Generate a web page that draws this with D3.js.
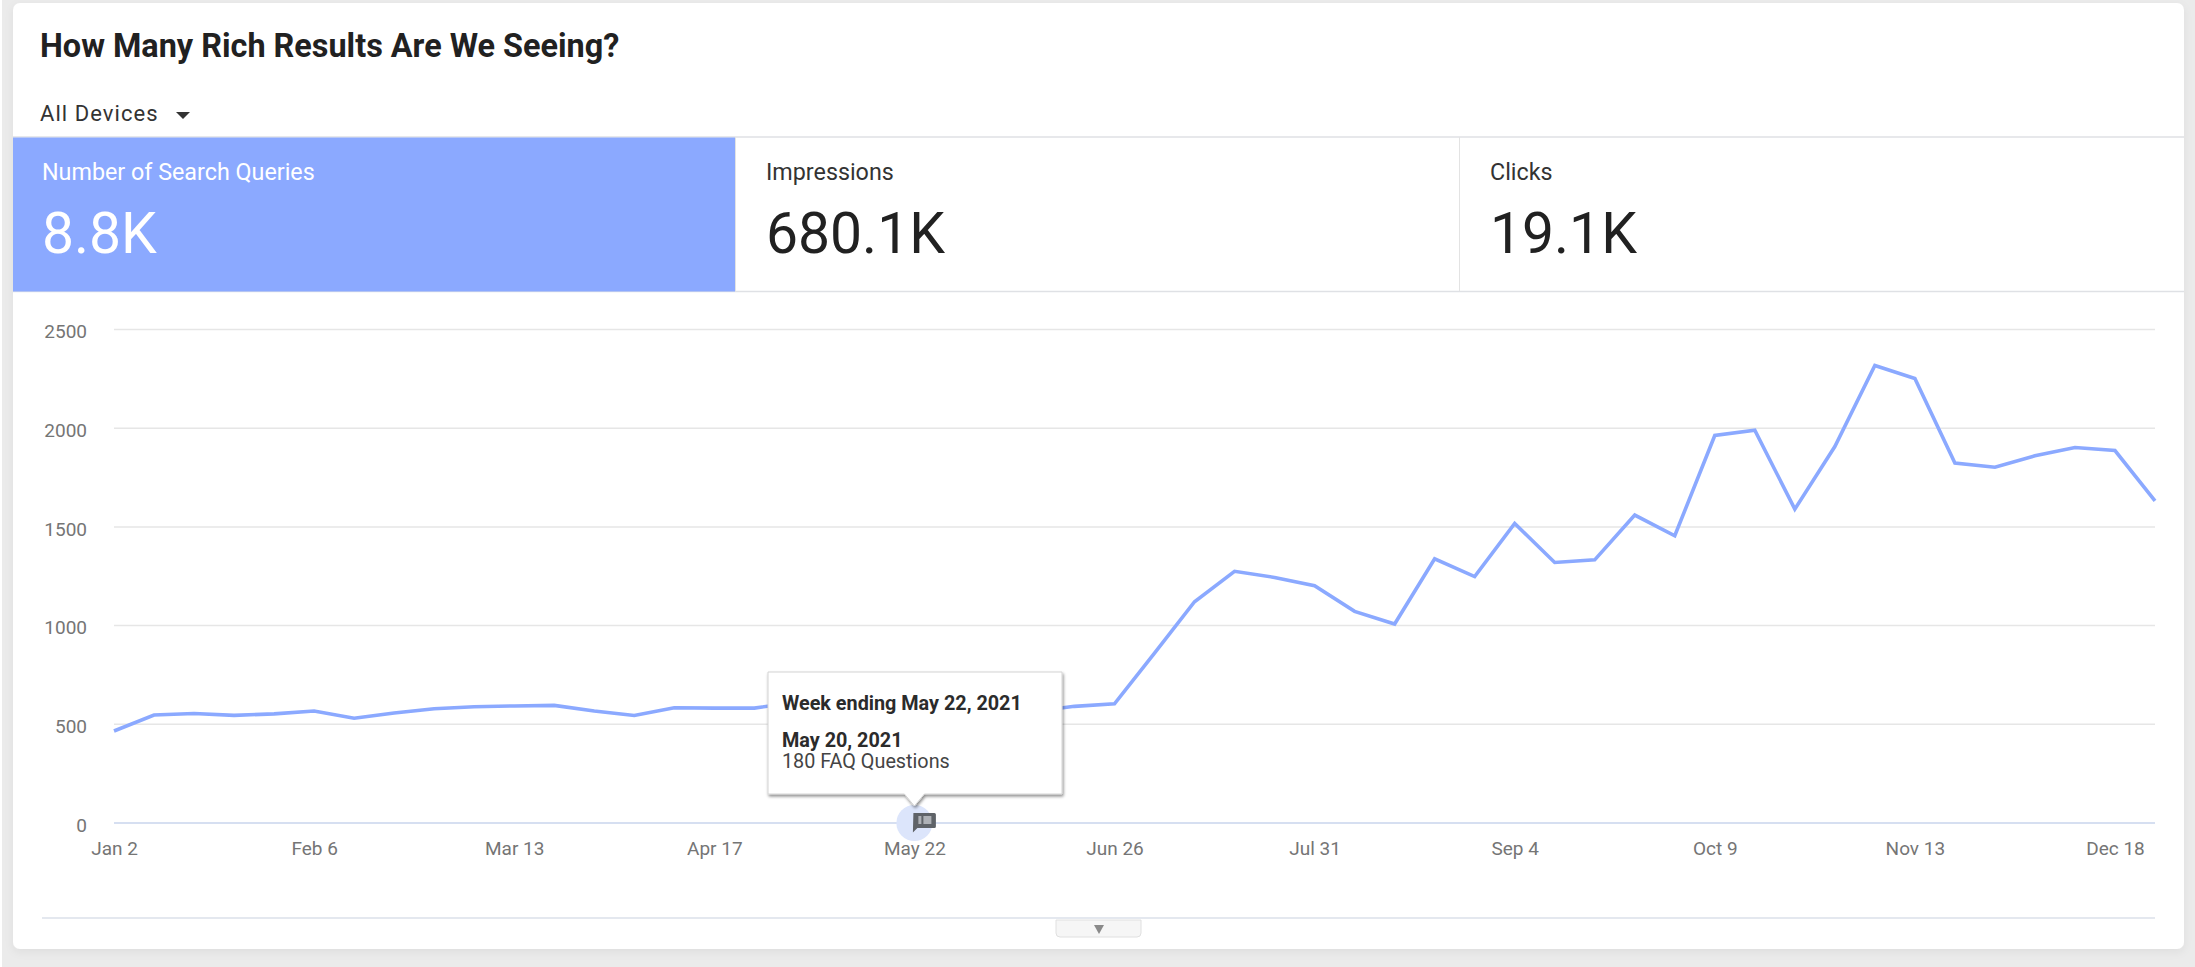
<!DOCTYPE html>
<html>
<head>
<meta charset="utf-8">
<title>How Many Rich Results Are We Seeing?</title>
<script src="https://cdn.jsdelivr.net/npm/d3@7/dist/d3.min.js"></script>
<style>
  html, body { margin: 0; padding: 0; background: #fff; overflow: hidden; }
  svg { display: block; font-family: Roboto, sans-serif; }
</style>
</head>
<body>
<svg id="chart" width="2195" height="967"></svg>
<script>
// Weekly query counts, week ending Jan 2 through Dec 25, 2021
const weeklyQueries = [
  466, 547, 555, 545, 553, 567, 531, 557, 579, 589,
  593, 596, 567, 545, 584, 582, 582, 610, 620, 600,
  590, 580, 575, 565, 591, 604, 860, 1121, 1275, 1244,
  1202, 1072, 1008, 1338, 1248, 1518, 1320, 1333, 1560, 1455,
  1963, 1990, 1590, 1907, 2318, 2252, 1823, 1802, 1860, 1902,
  1887, 1632
];
const yTicks = [0, 500, 1000, 1500, 2000, 2500];
const xTickDates = ["2021-01-02", "2021-02-06", "2021-03-13", "2021-04-17", "2021-05-22",
  "2021-06-26", "2021-07-31", "2021-09-04", "2021-10-09", "2021-11-13", "2021-12-18"];
const scorecardLabels = ["Number of Search Queries", "Impressions", "Clicks"];
const scorecardValues = ["8.8K", "680.1K", "19.1K"];
const annotationDate = "2021-05-22";
const tooltipLines = ["Week ending May 22, 2021", "May 20, 2021", "180 FAQ Questions"];

const BLUE = "#8ba9ff";
const INK = "#212121";
const svg = d3.select("#chart");

const weekDates = weeklyQueries.map((_, i) => d3.utcDay.offset(new Date(Date.UTC(2021, 0, 2)), i * 7));
const x = d3.scaleUtc().domain([weekDates[0], weekDates[weekDates.length - 1]]).range([114, 2155]);
const y = d3.scaleLinear().domain([0, 2500]).range([823, 329.5]);

// Page and card
svg.append("rect").attr("x", 2).attr("width", 2193).attr("height", 967).attr("fill", "#ebebeb");
const defs = svg.append("defs");
const cardShadow = defs.append("filter").attr("id", "cardShadow")
  .attr("x", "-2%").attr("y", "-2%").attr("width", "104%").attr("height", "106%");
cardShadow.append("feDropShadow").attr("dx", 0).attr("dy", 3).attr("stdDeviation", 4)
  .attr("flood-color", "#000").attr("flood-opacity", 0.06);
const tipShadow = defs.append("filter").attr("id", "tipShadow")
  .attr("x", "-10%").attr("y", "-10%").attr("width", "120%").attr("height", "125%");
tipShadow.append("feDropShadow").attr("dx", 1).attr("dy", 2).attr("stdDeviation", 1.6)
  .attr("flood-color", "#000").attr("flood-opacity", 0.45);

svg.append("rect").attr("x", 13).attr("y", 3).attr("width", 2171).attr("height", 946)
  .attr("rx", 7).attr("fill", "#fff").attr("filter", "url(#cardShadow)");

// Header
svg.append("text").attr("x", 40).attr("y", 57).attr("font-size", 32.4).attr("font-weight", 700)
  .attr("fill", INK).text("How Many Rich Results Are We Seeing?");
svg.append("text").attr("x", 40).attr("y", 121).attr("font-size", 22).attr("letter-spacing", 1.05)
  .attr("fill", "#333").text("All Devices");
svg.append("path").attr("d", d3.line()([[176, 112], [190, 112], [183, 119]]) + "Z").attr("fill", "#333");

// Scorecards
const cardEdges = [13, 735, 1459, 2184];
svg.append("line").attr("x1", 13).attr("x2", 2184).attr("y1", 137).attr("y2", 137).attr("stroke", "#dfe1e5").attr("stroke-width", 1.5);
svg.append("line").attr("x1", 13).attr("x2", 2184).attr("y1", 291.5).attr("y2", 291.5).attr("stroke", "#dfe1e5").attr("stroke-width", 1.5);
const cards = svg.selectAll("g.scorecard").data(scorecardLabels).join("g").attr("class", "scorecard");
cards.append("rect")
  .attr("x", (_, i) => cardEdges[i]).attr("y", 137.5)
  .attr("width", (_, i) => cardEdges[i + 1] - cardEdges[i]).attr("height", 154)
  .attr("fill", (_, i) => i === 0 ? BLUE : "none");
cards.filter((_, i) => i > 0).append("line")
  .attr("x1", (_, i) => cardEdges[i + 1] + 0.5).attr("x2", (_, i) => cardEdges[i + 1] + 0.5)
  .attr("y1", 137).attr("y2", 291).attr("stroke", "#e3e3e3");
cards.append("text")
  .attr("x", (_, i) => cardEdges[i] + (i === 0 ? 29 : 31)).attr("y", 180)
  .attr("font-size", 23.3).attr("fill", (_, i) => i === 0 ? "#fff" : "#333").text(d => d);
cards.append("text")
  .attr("x", (_, i) => cardEdges[i] + (i === 0 ? 29 : 31)).attr("y", 253)
  .attr("font-size", 57).attr("fill", (_, i) => i === 0 ? "#fff" : INK)
  .text((_, i) => scorecardValues[i]);

// Y axis and gridlines
const yAxis = svg.append("g").attr("transform", "translate(114,0)")
  .call(d3.axisLeft(y).tickValues(yTicks).tickSize(0).tickPadding(27).tickFormat(d3.format("d")));
yAxis.select(".domain").remove();
yAxis.selectAll("text").attr("font-family", "Roboto, sans-serif").attr("font-size", 19)
  .attr("fill", "#757575").attr("dy", "0.44em");
svg.append("g").selectAll("line").data(yTicks).join("line")
  .attr("x1", x.range()[0]).attr("x2", x.range()[1])
  .attr("y1", d => y(d)).attr("y2", d => y(d))
  .attr("stroke", d => d === 0 ? "#c9d4ec" : "#e6e6e6").attr("stroke-width", 1.5);

// X axis
const xAxis = svg.append("g").attr("transform", "translate(0,823)")
  .call(d3.axisBottom(x).tickValues(xTickDates.map(d => new Date(d + "T00:00:00Z")))
    .tickSize(0).tickPadding(19).tickFormat(d3.utcFormat("%b %-d")));
xAxis.select(".domain").remove();
xAxis.selectAll("text").attr("font-family", "Roboto, sans-serif").attr("font-size", 19).attr("fill", "#757575");

// Series line
svg.append("path").datum(weeklyQueries)
  .attr("fill", "none").attr("stroke", BLUE).attr("stroke-width", 3.6).attr("stroke-linejoin", "miter")
  .attr("d", d3.line().x((_, i) => x(weekDates[i])).y(d => y(d)));

// Range control below the plot
svg.append("line").attr("x1", 42).attr("x2", 2155).attr("y1", 918).attr("y2", 918)
  .attr("stroke", "#dbe1ea").attr("stroke-width", 1.5);
svg.append("path").attr("d", "M1056,920V933a4,4 0 0 0 4,4H1137a4,4 0 0 0 4,-4V920Z")
  .attr("fill", "#f6f6f6").attr("stroke", "#e0e0e0");
svg.append("path").attr("d", d3.line()([[1094, 925], [1104, 925], [1099, 934]]) + "Z").attr("fill", "#8a8a8a");

// Annotation marker on the zero line
const annX = x(new Date(annotationDate + "T00:00:00Z"));
const annY = y(0);
svg.append("circle").attr("cx", annX).attr("cy", annY).attr("r", 18).attr("fill", "#dce5fb");
svg.append("path")
  .attr("d", `M${annX - 1},${annY - 10}h21a1.5,1.5 0 0 1 1.5,1.5v12a1.5,1.5 0 0 1 -1.5,1.5h-17l-4.5,4.5Z`)
  .attr("fill", "#5f6368");
svg.append("rect").attr("x", annX + 4).attr("y", annY - 7).attr("width", 3).attr("height", 8).attr("fill", "#aeb1b6");
svg.append("rect").attr("x", annX + 9).attr("y", annY - 7).attr("width", 8).attr("height", 8).attr("fill", "#aeb1b6");

// Annotation tooltip
const tip = svg.append("g");
tip.append("path")
  .attr("d", `M768,672H1062V794H${annX + 10}L${annX},806L${annX - 10},794H768Z`)
  .attr("fill", "#fff").attr("stroke", "#d4d4d4").attr("filter", "url(#tipShadow)");
tip.selectAll("text").data(tooltipLines).join("text")
  .attr("x", 782).attr("y", (_, i) => [710, 747, 768][i])
  .attr("font-size", 19.8).attr("font-weight", (_, i) => i < 2 ? 700 : 400)
  .attr("fill", (_, i) => i < 2 ? "#2b2b2b" : "#444").text(d => d);
</script>
</body>
</html>
